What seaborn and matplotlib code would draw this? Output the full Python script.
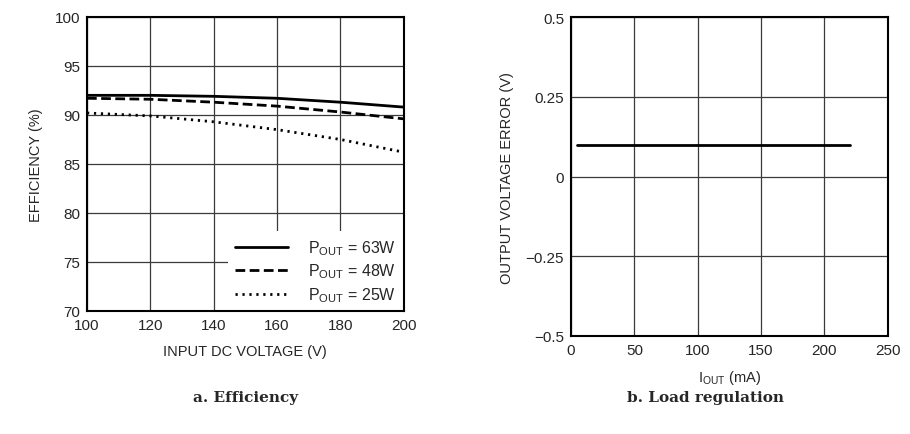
import pandas as pd
import numpy as np
import seaborn as sns
import matplotlib.pyplot as plt

# efficiency vs input voltage
vin = [100, 120, 140, 160, 180, 200]
eff_63w = [92.0, 92.0, 91.9, 91.7, 91.3, 90.8]
eff_48w = [91.7, 91.6, 91.3, 90.9, 90.3, 89.6]
eff_25w = [90.2, 89.9, 89.3, 88.5, 87.5, 86.2]
series_labels = ['P$_{\\mathrm{OUT}}$ = 63W', 'P$_{\\mathrm{OUT}}$ = 48W', 'P$_{\\mathrm{OUT}}$ = 25W']

# load regulation
iout = [5, 220]
verr = [0.1, 0.1]

sns.set_style('white')
plt.rcParams['font.family'] = ['Liberation Sans Narrow', 'Liberation Sans', 'DejaVu Sans']
plt.rcParams['mathtext.fontset'] = 'custom'
plt.rcParams['mathtext.rm'] = 'Liberation Sans'

eff_df = pd.DataFrame({
    'vin': vin * 3,
    'eff': eff_63w + eff_48w + eff_25w,
    'series': [series_labels[0]] * 6 + [series_labels[1]] * 6 + [series_labels[2]] * 6,
})
reg_df = pd.DataFrame({'iout': iout, 'verr': verr})

fig = plt.figure(figsize=(9.1, 4.35), dpi=100)
ax1 = fig.add_axes([0.0956, 0.2828, 0.348, 0.676])
ax2 = fig.add_axes([0.6275, 0.2253, 0.348, 0.733])

for lab, dash in zip(series_labels, ['-', (0, (3.5, 1.6)), (0, (0.8, 1.7))]):
    sub = eff_df[eff_df['series'] == lab]
    sns.lineplot(data=sub, x='vin', y='eff', ax=ax1, color='black', lw=2,
                 linestyle=dash, label=lab)

ax1.set_xlim(100, 200)
ax1.set_ylim(70, 100)
ax1.set_xticks(np.arange(100, 201, 20))
ax1.set_yticks(np.arange(70, 101, 5))
ax1.set_xlabel('INPUT DC VOLTAGE (V)', fontsize=10.5, labelpad=9)
ax1.set_ylabel('EFFICIENCY (%)', fontsize=10.5, labelpad=8)
leg = ax1.legend(loc='lower right', frameon=True, fontsize=11.5, handlelength=3.3,
                 borderaxespad=0.0, labelspacing=0.3, handletextpad=1.3,
                 borderpad=0.45)
leg.get_frame().set_edgecolor('none')
leg.get_frame().set_facecolor('white')
leg.get_frame().set_alpha(1)
leg.get_frame().set_boxstyle('square', pad=0)
leg.set_zorder(2)

sns.lineplot(data=reg_df, x='iout', y='verr', ax=ax2, color='black', lw=2)
ax2.set_xlim(0, 250)
ax2.set_ylim(-0.5, 0.5)
ax2.set_xticks(np.arange(0, 251, 50))
ax2.set_yticks([-0.5, -0.25, 0, 0.25, 0.5])
ax2.set_yticklabels(['\u22120.5', '\u22120.25', '0', '0.25', '0.5'])
ax2.set_xlabel('I$_{\\mathrm{OUT}}$ (mA)', fontsize=10.5, labelpad=8)
ax2.set_ylabel('OUTPUT VOLTAGE ERROR (V)', fontsize=10.5, labelpad=8)

for ax in (ax1, ax2):
    ax.grid(True, color='#3a3a3a', lw=0.9)
    ax.set_axisbelow(True)
    for sp in ax.spines.values():
        sp.set_color('black')
        sp.set_linewidth(1.5)
        sp.set_zorder(6)
    ax.tick_params(axis='both', labelsize=11, length=0, pad=5)

fig.text(0.27, 0.085, 'a. Efficiency', ha='center', va='center',
         fontsize=11, fontweight='bold', family=['DejaVu Serif'])
fig.text(0.775, 0.085, 'b. Load regulation', ha='center', va='center',
         fontsize=11, fontweight='bold', family=['DejaVu Serif'])

fig.savefig('out.png', dpi=100)
